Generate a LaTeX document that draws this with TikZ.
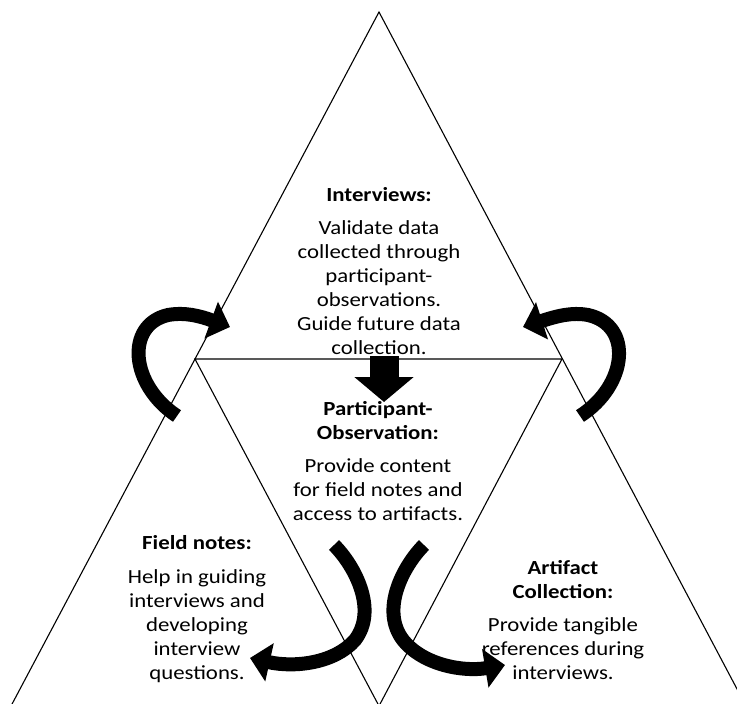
\documentclass[tikz,border=0pt]{standalone}
\usepackage{fontspec}
\setmainfont{Carlito}[FakeStretch=1.14]
\usetikzlibrary{arrows.meta}
\begin{document}
\begin{tikzpicture}[x=1pt,y=-1pt,
  edge/.style={line width=1.1pt, black},
  txt/.style={align=center, inner sep=0pt, font=\fontsize{20}{24}\selectfont, anchor=north},
  bigarrow/.style={line width=14pt, -{Triangle[length=20pt,width=38pt]}},
]
\useasboundingbox (0,0) rectangle (737,704);
\coordinate (A) at (379,12);
\coordinate (L) at (195,359);
\coordinate (R) at (562,359);
\coordinate (M) at (379,706);
\coordinate (BL) at (11,706);
\coordinate (BR) at (746,706);
\begin{scope}
\clip (0,0) rectangle (737,704);
\draw[edge] (BL) -- (A) -- (BR);
\draw[edge] (L) -- (R) -- (M) -- cycle;
\end{scope}

% texts
\node[txt] (interviews) at (379,187) {\textbf{Interviews:}\\[9pt] Validate data\\ collected through\\ participant-\\ observations.\\ Guide future data\\ collection.};
\node[txt] (partobs) at (378,401) {\textbf{Participant-}\\ \textbf{Observation:}\\[9pt] Provide content\\ for field notes and\\ access to artifacts.};
\node[txt] (fieldnotes) at (197,535) {\textbf{Field notes:}\\[10pt] Help in guiding\\ interviews and\\ developing\\ interview\\ questions.};
\node[txt] (artifact) at (563,560) {\textbf{Artifact}\\ \textbf{Collection:}\\[9pt] Provide tangible\\ references during\\ interviews.};

% arrows
\coordinate (dn1) at (384,356);
\coordinate (dn2) at (384,402);
\draw[line width=29pt, -{Triangle[length=25pt,width=58pt]}] (dn1) -- (dn2);

\coordinate (la1) at (177,416);
\coordinate (la2) at (230,327);
\draw[bigarrow] (la1) .. controls (130,385) and (125,325) .. (168,315) .. controls (185,312) and (200,316) .. (la2);

\coordinate (ra1) at (580,416);
\coordinate (ra2) at (523,327);
\draw[bigarrow] (ra1) .. controls (628,385) and (633,325) .. (588,315) .. controls (572,312) and (557,316) .. (ra2);

\coordinate (bl1) at (334,545);
\coordinate (bl2) at (250,658);
\draw[bigarrow] (bl1) .. controls (355,566) and (378,610) .. (355,640) .. controls (335,663) and (295,668) .. (bl2);

\coordinate (br1) at (424,545);
\coordinate (br2) at (505,665);
\draw[bigarrow] (br1) .. controls (403,566) and (380,610) .. (403,640) .. controls (423,665) and (463,672) .. (br2);
\end{tikzpicture}
\end{document}
